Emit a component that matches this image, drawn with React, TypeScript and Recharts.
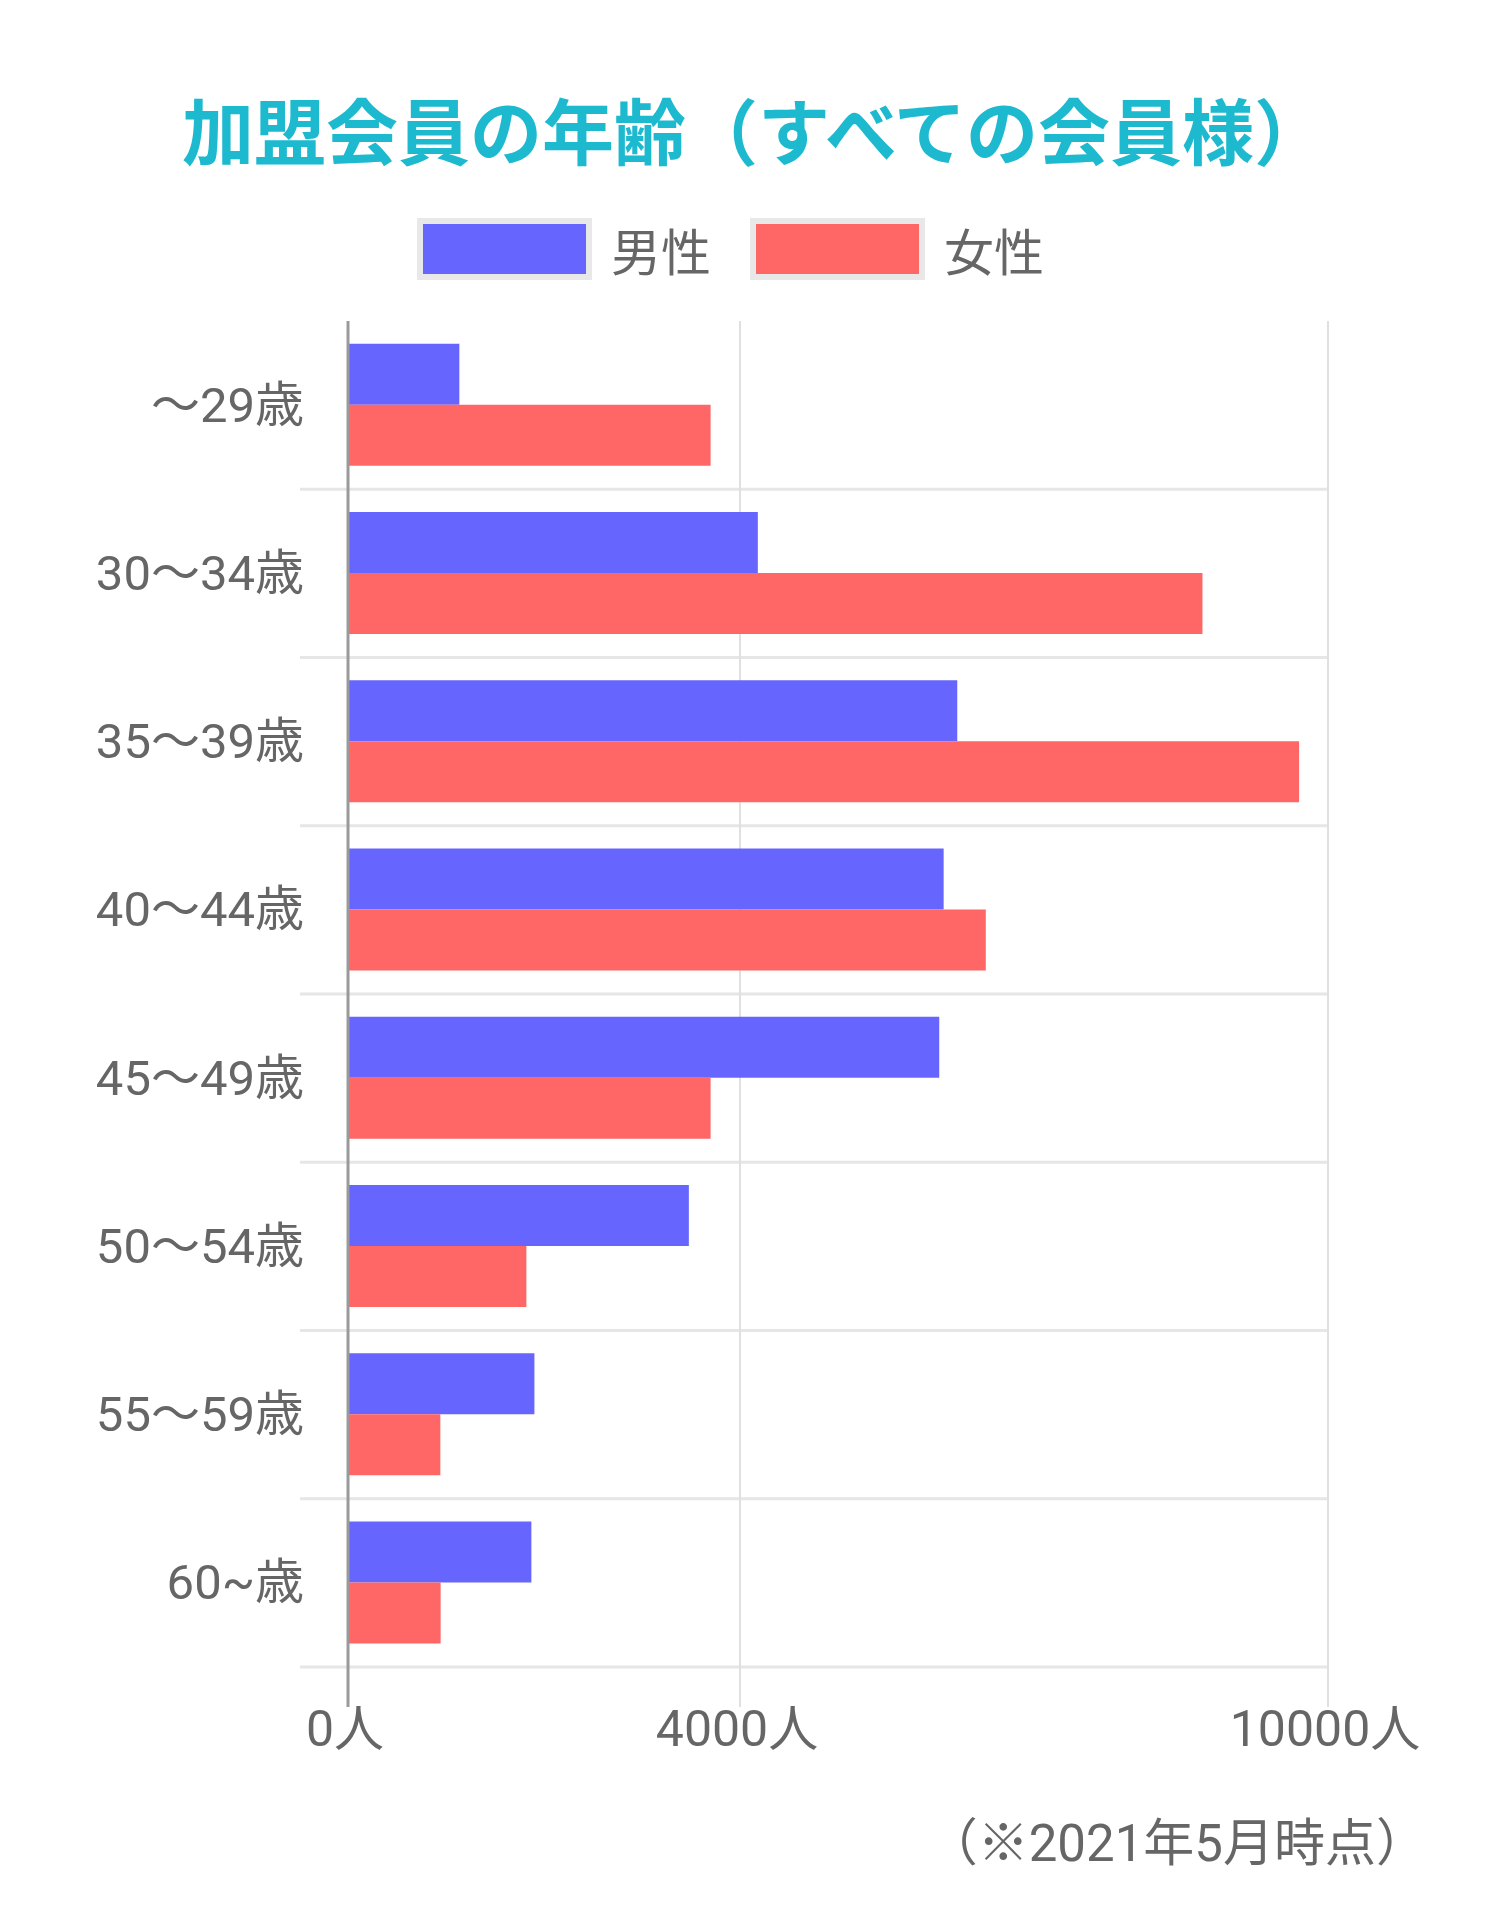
import React from "react";
import {
  BarChart,
  Bar,
  XAxis,
  YAxis,
  CartesianGrid,
  Legend,
  ReferenceLine,
} from "recharts";

// age groups (top to bottom) and member counts
const ageGroups = ["〜29歳", "30〜34歳", "35〜39歳", "40〜44歳", "45〜49歳", "50〜54歳", "55〜59歳", "60~歳"];
const maleCounts = [1136, 4182, 6217, 6078, 6033, 3478, 1902, 1871];
const femaleCounts = [3700, 8719, 9705, 6508, 3700, 1820, 942, 945];
const xTicks = [0, 4000, 10000];
const seriesNames = ["男性", "女性"];
const seriesColors = ["#6666ff", "#ff6666"];

const data = ageGroups.map((age, i) => ({
  age,
  male: maleCounts[i],
  female: femaleCounts[i],
}));

// the negative minimum lets the horizontal grid run left of the zero line
const X_DOMAIN: [number, number] = [-490, 10000];

const FONT = "Roboto, 'Noto Sans CJK JP', sans-serif";
const JP = "'Noto Sans CJK JP', sans-serif";
const TEXT_GRAY = "#666666";

function XTick(props: any) {
  const { x, y, payload } = props;
  const v = payload.value;
  const label = `${v}人`;
  const zero = v === 0;
  return (
    <g>
      <line
        x1={x}
        x2={x}
        y1={y - 62}
        y2={y - 22}
        stroke={zero ? "#9a9a9a" : "#e0e0e0"}
        strokeWidth={zero ? 3 : 2}
      />
      <text
        x={x - 3}
        y={y}
        textAnchor="middle"
        dominantBaseline="central"
        fill={TEXT_GRAY}
        fontSize={50}
        fontFamily={FONT}
      >
        {label}
      </text>
    </g>
  );
}

function YTick(props: any) {
  const { x, y, payload } = props;
  return (
    <text
      x={x + 4}
      y={y}
      textAnchor="end"
      dominantBaseline="central"
      fill={TEXT_GRAY}
      fontSize={49}
      fontFamily={FONT}
    >
      {payload.value}
    </text>
  );
}

function LegendBoxes(props: any) {
  const items = [...(props.payload || [])].sort(
    (a: any, b: any) => seriesNames.indexOf(a.value) - seriesNames.indexOf(b.value)
  );
  return (
    <div style={{ display: "flex", justifyContent: "center", alignItems: "center" }}>
      {items.map((item: any, i: number) => (
        <div
          key={item.value}
          style={{ display: "flex", alignItems: "center", marginLeft: i === 0 ? 0 : 39 }}
        >
          <div
            style={{
              width: 163,
              height: 50,
              background: item.color,
              border: "6px solid #e8e8e8",
            }}
          />
          <span
            style={{
              marginLeft: 19,
              fontSize: 50,
              fontFamily: JP,
              color: TEXT_GRAY,
              lineHeight: "62px",
            }}
          >
            {item.value}
          </span>
        </div>
      ))}
    </div>
  );
}

export default function App() {
  return (
    <div style={{ position: "absolute", left: 0, top: 0, width: 1500, height: 1908, background: "#fff" }}>
      <BarChart
        width={1500}
        height={1908}
        data={data}
        layout="vertical"
        margin={{ top: 321, right: 172, bottom: 0, left: 0 }}
        barCategoryGap="13.5%"
        barGap={0}
      >
        <CartesianGrid
          horizontal={true}
          vertical={false}
          stroke="#e6e6e6"
          strokeWidth={3}
          horizontalCoordinatesGenerator={({ offset }: any) => {
            const band = offset.height / ageGroups.length;
            return ageGroups.map((_, k) => offset.top + (k + 1) * band);
          }}
        />
        <CartesianGrid
          horizontal={false}
          vertical={true}
          stroke="#e0e0e0"
          strokeWidth={2}
          verticalCoordinatesGenerator={({ offset }: any) =>
            xTicks.map(
              (t) => offset.left + ((t - X_DOMAIN[0]) / (X_DOMAIN[1] - X_DOMAIN[0])) * offset.width
            )
          }
        />
        <XAxis
          type="number"
          domain={X_DOMAIN}
          allowDataOverflow
          ticks={xTicks}
          axisLine={false}
          tickLine={false}
          tickSize={40}
          tickMargin={22}
          height={241}
          tick={<XTick />}
        />
        <YAxis
          type="category"
          dataKey="age"
          width={300}
          axisLine={false}
          tickLine={false}
          tickSize={0}
          tickMargin={0}
          interval={0}
          tick={<YTick />}
        />
        <ReferenceLine x={0} stroke="#9a9a9a" strokeWidth={3} />
        <Legend
          verticalAlign="middle"
          align="center"
          layout="horizontal"
          wrapperStyle={{ top: 218, left: 0, width: 1461 }}
          content={<LegendBoxes />}
        />
        <Bar
          dataKey="male"
          name={seriesNames[0]}
          fill={seriesColors[0]}
          isAnimationActive={false}
        />
        <Bar
          dataKey="female"
          name={seriesNames[1]}
          fill={seriesColors[1]}
          isAnimationActive={false}
        />
      </BarChart>
      <svg
        width={1500}
        height={1908}
        style={{ position: "absolute", left: 0, top: 0, pointerEvents: "none" }}
      >
        <text
          x={182}
          y={127}
          dominantBaseline="central"
          fill="#1db9cf"
          fontSize={72}
          fontWeight={700}
          fontFamily={JP}
        >
          加盟会員の年齢（すべての会員様）
        </text>
        <text
          x={1427}
          y={1843}
          textAnchor="end"
          dominantBaseline="central"
          fill={TEXT_GRAY}
          fontSize={51}
          fontFamily={FONT}
        >
          （※2021年5月時点）
        </text>
      </svg>
    </div>
  );
}
